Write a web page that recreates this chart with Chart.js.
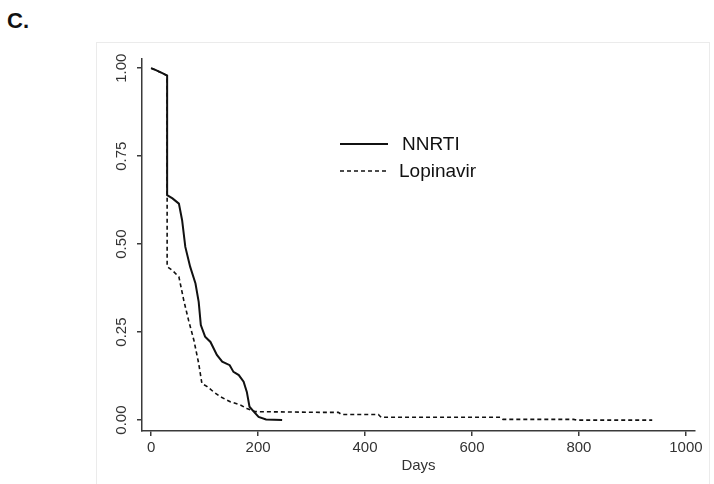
<!DOCTYPE html>
<html>
<head>
<meta charset="utf-8">
<script src="https://cdn.jsdelivr.net/npm/chart.js@4.4.1/dist/chart.umd.min.js"></script>
<style>
  html, body { margin: 0; padding: 0; background: #fff; }
  #wrap { position: relative; width: 714px; height: 484px; }
  #frame { position: absolute; left: 96px; top: 42px; width: 614px; height: 460px;
           border: 1px solid #ebebeb; box-sizing: border-box; }
  #panel { position: absolute; left: 7px; top: 8px; font: bold 22px "Liberation Sans", Arial, sans-serif; color: #111; }
</style>
</head>
<body>
<div id="wrap">
  <div id="frame"></div>
  <div id="panel">C.</div>
  <canvas id="graph" width="714" height="484" style="position:absolute;left:0;top:0"></canvas>
</div>
<script>
// courbes de survie
var nnrtiDays = [0, 8, 15, 22, 30, 30, 40, 52, 58, 64, 73, 83, 89, 93, 101, 111, 123, 133, 147, 154, 164, 173, 179, 184, 192, 201, 215, 245];
var nnrtiSurv = [1.0, 0.995, 0.99, 0.985, 0.979, 0.639, 0.63, 0.615, 0.568, 0.492, 0.436, 0.388, 0.336, 0.27, 0.237, 0.222, 0.185, 0.166, 0.156, 0.137, 0.128, 0.109, 0.08, 0.038, 0.024, 0.009, 0.002, 0.0];

var lopDays = [0, 8, 15, 22, 30, 30, 40, 52, 61, 70, 80, 89, 95, 105, 117, 130, 148, 167, 179, 195, 316, 350, 356, 425, 430, 653, 658, 790, 795, 937];
var lopSurv = [1.0, 0.995, 0.99, 0.985, 0.979, 0.436, 0.425, 0.407, 0.341, 0.284, 0.227, 0.161, 0.104, 0.095, 0.08, 0.066, 0.052, 0.043, 0.033, 0.024, 0.022, 0.022, 0.016, 0.016, 0.008, 0.008, 0.002, 0.002, 0.0, 0.0];

var seriesLabels = ["NNRTI", "Lopinavir"];
var xTicks = [0, 200, 400, 600, 800, 1000];
var yTicks = [0, 0.25, 0.5, 0.75, 1];
var yTickLabels = ["0.00", "0.25", "0.50", "0.75", "1.00"];
var xTitle = "Days";

function toPoints(xs, ys) {
  return xs.map(function (x, i) { return { x: x, y: ys[i] }; });
}

var axisColor = "#3a3a3a";
var font = "Liberation Sans, Arial, sans-serif";

// étiquettes y tournées + légende dans le graphique
var customDraw = {
  id: "customDraw",
  afterDraw: function (chart) {
    var c = chart.ctx;
    var ys = chart.scales.y;
    c.save();
    c.fillStyle = "#333";
    c.font = "15px " + font;
    c.textAlign = "center";
    c.textBaseline = "middle";
    yTicks.forEach(function (v, i) {
      var py = ys.getPixelForValue(v);
      c.save();
      c.translate(122, py);
      c.rotate(-Math.PI / 2);
      c.fillText(yTickLabels[i], 0, 0);
      c.restore();
    });

    // légende
    var rows = [144, 171];
    chart.data.datasets.forEach(function (ds, i) {
      c.strokeStyle = ds.borderColor;
      c.lineWidth = ds.borderWidth;
      c.setLineDash(ds.borderDash || []);
      c.beginPath();
      c.moveTo(340, rows[i]);
      c.lineTo(388, rows[i]);
      c.stroke();
      c.setLineDash([]);
      c.fillStyle = "#111";
      c.font = "19px " + font;
      c.textAlign = "left";
      c.fillText(ds.label, i === 0 ? 402 : 399, rows[i] + 1);
    });
    c.restore();
  },
};

var ctx = document.querySelector("#graph");
var graph = new Chart(ctx, {
  type: "scatter",
  data: {
    datasets: [
      {
        label: seriesLabels[0],
        data: toPoints(nnrtiDays, nnrtiSurv),
        showLine: true,
        borderColor: "#111",
        borderWidth: 2,
        pointRadius: 0,
        tension: 0,
      },
      {
        label: seriesLabels[1],
        data: toPoints(lopDays, lopSurv),
        showLine: true,
        borderColor: "#111",
        borderWidth: 1.6,
        borderDash: [4, 3],
        pointRadius: 0,
        tension: 0,
      },
    ],
  },
  options: {
    responsive: false,
    animation: false,
    layout: { padding: { top: 59, right: 19, left: 0, bottom: 0 } },
    plugins: { legend: { display: false }, tooltip: { enabled: false } },
    scales: {
      x: {
        type: "linear",
        min: -17,
        max: 1017,
        afterBuildTicks: function (s) { s.ticks = xTicks.map(function (v) { return { value: v }; }); },
        afterFit: function (s) { s.height = 53; },
        grid: { drawOnChartArea: false, drawTicks: true, tickLength: 5, color: axisColor, lineWidth: 1.5 },
        border: { display: true, color: axisColor, width: 1.5 },
        ticks: {
          color: "#333", font: { size: 15, family: font }, padding: 3, maxRotation: 0,
          callback: function (v) { return String(v); },
        },
        title: { display: true, text: xTitle, color: "#333", font: { size: 15, family: font }, padding: { top: 0, bottom: 9 } },
      },
      y: {
        type: "linear",
        min: -0.031,
        max: 1.026,
        afterBuildTicks: function (s) { s.ticks = yTicks.map(function (v) { return { value: v }; }); },
        afterFit: function (s) { s.width = 142; },
        grid: { drawOnChartArea: false, drawTicks: true, tickLength: 5, color: axisColor, lineWidth: 1.5 },
        border: { display: true, color: axisColor, width: 1.5 },
        ticks: { display: false },
      },
    },
  },
  plugins: [customDraw],
});
</script>
</body>
</html>
